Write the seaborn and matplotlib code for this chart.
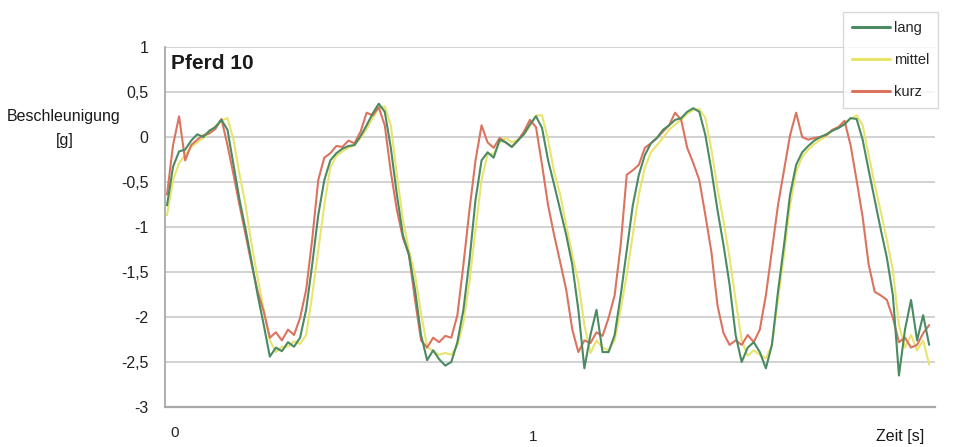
import numpy as np
import pandas as pd
import matplotlib
matplotlib.use("Agg")
import matplotlib.pyplot as plt
import matplotlib.transforms as mtransforms
import seaborn as sns

# Acceleration of horse 10, three stride variants, sampled at 60 Hz
rate_hz = 60

lang = [
    -0.76, -0.33, -0.16, -0.14, -0.04, 0.03, 0.00, 0.07, 0.11, 0.19,
    0.08, -0.31, -0.70, -1.03, -1.39, -1.76, -2.09, -2.44, -2.34, -2.38,
    -2.28, -2.33, -2.23, -1.92, -1.42, -0.87, -0.48, -0.26, -0.18, -0.13,
    -0.10, -0.09, 0.01, 0.13, 0.26, 0.37, 0.28, -0.12, -0.64, -1.09,
    -1.31, -1.70, -2.20, -2.48, -2.37, -2.47, -2.54, -2.50, -2.28, -1.92,
    -1.37, -0.70, -0.26, -0.17, -0.23, -0.03, -0.06, -0.11, -0.04, 0.03,
    0.14, 0.23, 0.10, -0.26, -0.53, -0.81, -1.09, -1.42, -1.92, -2.57,
    -2.20, -1.92, -2.39, -2.39, -2.20, -1.76, -1.26, -0.76, -0.42, -0.20,
    -0.07, -0.01, 0.08, 0.13, 0.19, 0.21, 0.28, 0.32, 0.28, 0.02,
    -0.37, -0.81, -1.20, -1.64, -2.20, -2.50, -2.34, -2.28, -2.39, -2.57,
    -2.31, -1.72, -1.20, -0.64, -0.31, -0.17, -0.10, -0.04, 0.00, 0.03,
    0.07, 0.10, 0.14, 0.21, 0.20, -0.03, -0.37, -0.70, -1.03, -1.34,
    -1.76, -2.65, -2.14, -1.81, -2.26, -1.98, -2.31,
]

mittel = [
    -0.87, -0.48, -0.29, -0.20, -0.11, -0.06, -0.01, 0.04, 0.12, 0.18,
    0.21, -0.03, -0.42, -0.76, -1.20, -1.57, -1.92, -2.26, -2.39, -2.33,
    -2.33, -2.27, -2.30, -2.20, -1.76, -1.26, -0.76, -0.34, -0.21, -0.16,
    -0.12, -0.09, -0.01, 0.09, 0.21, 0.32, 0.34, 0.13, -0.42, -0.92,
    -1.26, -1.53, -1.96, -2.33, -2.38, -2.42, -2.40, -2.42, -2.32, -2.06,
    -1.61, -1.03, -0.48, -0.19, -0.19, -0.06, -0.01, -0.06, -0.03, 0.03,
    0.12, 0.24, 0.24, -0.03, -0.39, -0.64, -0.98, -1.31, -1.61, -2.09,
    -2.40, -2.26, -2.34, -2.37, -2.26, -1.92, -1.53, -1.09, -0.64, -0.34,
    -0.17, -0.09, -0.01, 0.08, 0.14, 0.19, 0.26, 0.30, 0.31, 0.21,
    -0.14, -0.57, -0.94, -1.34, -1.81, -2.26, -2.43, -2.37, -2.42, -2.46,
    -2.31, -1.81, -1.31, -0.76, -0.39, -0.22, -0.14, -0.08, -0.03, 0.01,
    0.07, 0.11, 0.16, 0.20, 0.24, 0.13, -0.20, -0.53, -0.83, -1.14,
    -1.48, -2.09, -2.34, -2.20, -2.37, -2.26, -2.53,
]

kurz = [
    -0.64, -0.09, 0.23, -0.26, -0.09, -0.03, 0.02, 0.04, 0.09, 0.20,
    -0.09, -0.42, -0.76, -1.09, -1.42, -1.72, -1.94, -2.23, -2.17, -2.26,
    -2.14, -2.20, -2.01, -1.70, -1.14, -0.48, -0.23, -0.18, -0.10, -0.11,
    -0.04, -0.07, 0.06, 0.27, 0.24, 0.33, 0.13, -0.39, -0.81, -1.12,
    -1.31, -1.81, -2.26, -2.34, -2.23, -2.28, -2.21, -2.23, -1.98, -1.42,
    -0.81, -0.26, 0.13, -0.06, -0.12, -0.01, -0.06, -0.11, -0.04, 0.06,
    0.19, 0.11, -0.31, -0.76, -1.09, -1.39, -1.70, -2.14, -2.39, -2.26,
    -2.29, -2.17, -2.21, -2.01, -1.76, -1.20, -0.42, -0.37, -0.31, -0.12,
    -0.07, -0.01, 0.06, 0.13, 0.27, 0.19, -0.12, -0.29, -0.48, -0.87,
    -1.28, -1.87, -2.18, -2.31, -2.26, -2.31, -2.20, -2.28, -2.14, -1.76,
    -1.26, -0.76, -0.37, 0.02, 0.27, 0.00, -0.03, -0.01, 0.00, 0.02,
    0.08, 0.11, 0.18, -0.09, -0.48, -0.89, -1.42, -1.72, -1.76, -1.81,
    -2.01, -2.28, -2.23, -2.34, -2.31, -2.18, -2.09,
]

series_names = ["lang", "mittel", "kurz"]
series_colors = {"lang": "#4b8a62", "mittel": "#e8e46c", "kurz": "#dc735f"}
y_ticks = [-3, -2.5, -2, -1.5, -1, -0.5, 0, 0.5, 1]
y_tick_labels = ["-3", "-2,5", "-2", "-1,5", "-1", "-0,5", "0", "0,5", "1"]
x_ticks = [0, 1]
x_tick_labels = ["0", "1"]

frames = []
for name, values in zip(series_names, [lang, mittel, kurz]):
    t = np.arange(len(values)) / rate_hz
    frames.append(pd.DataFrame({"Zeit": t, "g": values, "Serie": name}))
df = pd.concat(frames, ignore_index=True)

sns.set_style("white")
plt.rcParams["font.family"] = ["Liberation Sans", "DejaVu Sans"]

fig = plt.figure(figsize=(9.54, 4.47), dpi=100)
ax = fig.add_axes([165 / 954, 40 / 447, 770 / 954, 360 / 447])

# horizontal grid first so the curves sit on top
for yv in y_ticks[1:]:
    ax.axhline(yv, color="#cfcfcf", lw=1.3, zorder=0)

sns.lineplot(data=df, x="Zeit", y="g", hue="Serie", hue_order=series_names,
             palette=series_colors, linewidth=1.5, ax=ax, legend=False,
             sort=False, estimator=None)
# stacking: yellow underneath, then red, then green
lines = ax.get_lines()[-3:]
for ln, z in zip(lines, [4, 2, 3]):
    ln.set_zorder(z)

ax.set_xlim(-0.0055, 2.116)
ax.set_ylim(-3, 1)
ax.set_yticks(y_ticks)
ax.set_yticklabels(y_tick_labels)
ax.set_xticks(x_ticks)
ax.set_xticklabels(x_tick_labels)
ax.set_xlabel("")
ax.set_ylabel("")

for side in ["top", "right"]:
    ax.spines[side].set_visible(False)
ax.spines["left"].set_color("#a8a8a8")
ax.spines["left"].set_linewidth(1.3)
ax.spines["bottom"].set_color("#a8a8a8")
ax.spines["bottom"].set_linewidth(1.6)

ax.tick_params(axis="y", length=0, pad=12, labelsize=11.5, labelcolor="#222222")
ax.tick_params(axis="x", length=0, pad=14, labelsize=11, labelcolor="#222222")
xl = ax.get_xticklabels()
xl[0].set_transform(xl[0].get_transform() +
                    mtransforms.ScaledTranslation(8 / 100, 0, fig.dpi_scale_trans))
xl[1].set_transform(xl[1].get_transform() +
                    mtransforms.ScaledTranslation(3 / 100, -4 / 100, fig.dpi_scale_trans))

# titles and axis captions
ax.text(0.008, 0.955, "Pferd 10", transform=ax.transAxes, fontsize=15,
        fontweight="bold", color="#1a1a1a", ha="left", va="center")
fig.text(64 / 954, 1 - 117 / 447, "Beschleunigung", fontsize=11.5,
         color="#1a1a1a", ha="center", va="center")
fig.text(65 / 954, 1 - 140 / 447, "[g]", fontsize=11.5,
         color="#1a1a1a", ha="center", va="center")
ax.text((900 - 165) / 770, -30 / 360, "Zeit [s]", transform=ax.transAxes,
        fontsize=11.5, color="#1a1a1a", ha="center", va="center")

# legend box in the upper right corner
handles = [plt.Line2D([], [], color=series_colors[n], lw=2.2) for n in series_names]
leg = fig.legend(handles, series_names, loc="upper left",
                 bbox_to_anchor=(843 / 954, 1 - 12 / 447), fontsize=10.5,
                 frameon=True, fancybox=False, handlelength=2.6,
                 handletextpad=0.3, labelspacing=1.25, borderpad=0.6,
                 borderaxespad=0)
leg.get_frame().set_edgecolor("#d0d0d0")
leg.get_frame().set_linewidth(1.0)

fig.savefig("out.png", dpi=100)
